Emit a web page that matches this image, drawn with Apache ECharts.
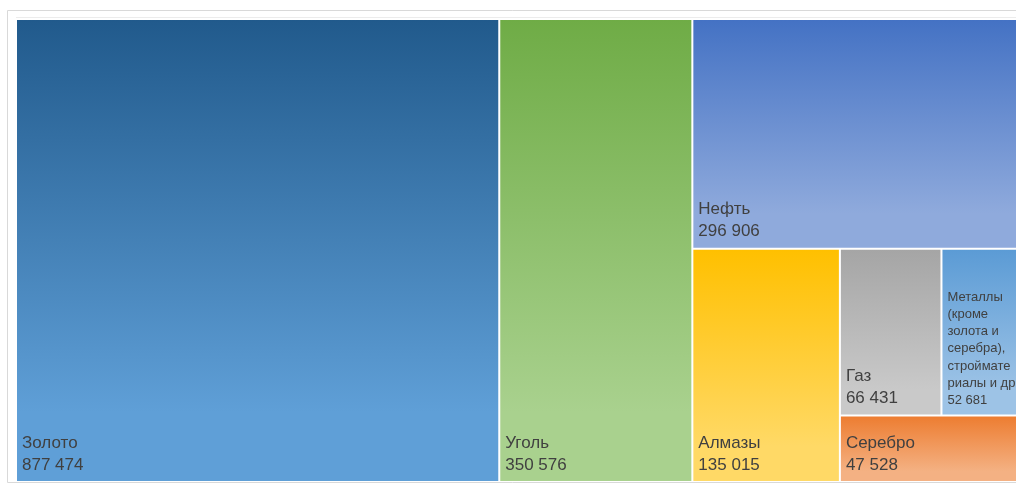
<!DOCTYPE html>
<html>
<head>
<meta charset="utf-8">
<script src="https://cdn.jsdelivr.net/npm/echarts@6/dist/echarts.min.js"></script>
<style>
  html, body { margin: 0; padding: 0; background: #fff; }
  #chart { width: 1016px; height: 483px; }
</style>
</head>
<body>
<div id="chart"></div>
<script>
// categories and values
var names = ['Золото', 'Уголь', 'Нефть', 'Алмазы', 'Газ',
  'Металлы (кроме золота и серебра), стройматериалы и др.', 'Серебро'];
var values = [877474, 350576, 296906, 135015, 66431, 52681, 47528];
// gradient top / bottom colours
var topColors = ['#215a8c', '#6fac46', '#4472c4', '#ffc000', '#a5a5a5', '#5b9bd5', '#ed7d31'];
var bottomColors = ['#5f9fd7', '#a9d18e', '#8faadc', '#ffd966', '#c9c9c9', '#9dc3e6', '#f4b183'];
// how the long label wraps in its narrow cell
var metalsLines = ['Металлы', '(кроме', 'золота и', 'серебра),', 'строймате', 'риалы и др.'];

function fmt(v) {
    return String(v).replace(/\B(?=(\d{3})+(?!\d))/g, ' ');
}

function leaf(i) {
    var item = {
        name: names[i],
        value: values[i],
        itemStyle: {
            color: {
                type: 'linear', x: 0, y: 0, x2: 0, y2: 1,
                colorStops: [
                    { offset: 0, color: topColors[i] },
                    { offset: 0.85, color: bottomColors[i] },
                    { offset: 1, color: bottomColors[i] }
                ]
            }
        }
    };
    if (i === 5) {
        item.label = {
            fontSize: 13, lineHeight: 17.3, overflow: 'none',
            formatter: function (p) { return metalsLines.join('\n') + '\n' + fmt(p.value); }
        };
    }
    return item;
}
function group(children) {
    return { name: '', children: children, itemStyle: { color: '#fff', borderColor: '#fff' } };
}

// grouping so the squarified layout matches the original (Excel-style) arrangement
var data = [
    leaf(0),
    leaf(1),
    group([leaf(2), group([leaf(3), group([group([leaf(4), leaf(5)]), leaf(6)])])])
];

var chart = echarts.init(document.getElementById('chart'));

chart.setOption({
    animation: false,
    graphic: [
        { type: 'rect', shape: { x: 7.5, y: 10.5, width: 1020, height: 472 },
          style: { fill: 'none', stroke: '#d9d9d9', lineWidth: 1 } },
        { type: 'line', shape: { x1: 16, y1: 17.5, x2: 1016, y2: 17.5 },
          style: { stroke: '#ececec', lineWidth: 1 } }
    ],
    series: [{
        type: 'treemap',
        left: 17,
        top: 20,
        width: 1004,
        height: 461,
        roam: false,
        nodeClick: false,
        silent: true,
        breadcrumb: { show: false },
        sort: false,
        squareRatio: 1,
        itemStyle: { gapWidth: 2, borderWidth: 0, borderColor: '#fff' },
        label: {
            show: true,
            position: 'insideBottomLeft',
            distance: 0,
            color: '#404040',
            fontFamily: 'Liberation Sans',
            fontSize: 17,
            lineHeight: 22,
            formatter: function (p) { return p.name + '\n' + fmt(p.value); }
        },
        data: data
    }]
});
</script>
</body>
</html>
